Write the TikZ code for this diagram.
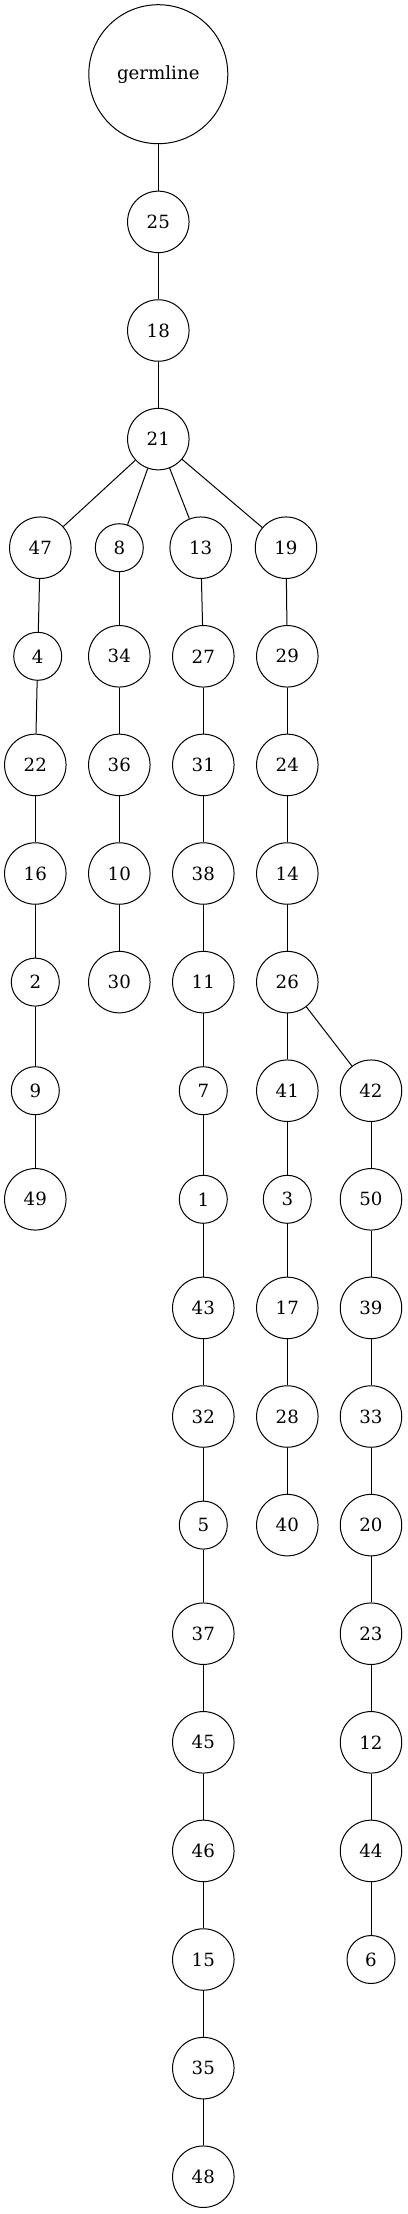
\documentclass[tikz,border=0pt]{standalone}
\usepackage{fontspec}
\setmainfont{DejaVu Serif}
\begin{document}
\begin{tikzpicture}[x=1pt,y=-1pt,
  nd/.style={circle,draw,line width=1pt,inner sep=0pt,minimum size=61.5pt,font=\fontsize{18.2}{22}\selectfont},
  sd/.style={nd,minimum size=48pt},
  root/.style={nd,minimum size=139pt},
  every path/.style={line width=1pt}]
\useasboundingbox (0,0) rectangle (407,2214);
% root column
\node[root] (g) at (158.3,74.2) {germline};
\node[nd] (n25) at (158.3,221.9) {25};
\node[nd] (n18) at (158.3,330.5) {18};
\node[nd] (n21) at (158.3,439.1) {21};
% column A
\node[nd] (n47) at (40.3,547.7) {47};
\node[sd] (n4) at (37.7,656.3) {4};
\node[nd] (n22) at (35.3,764.9) {22};
\node[nd] (n16) at (35.3,873.5) {16};
\node[sd] (n2) at (35.3,982.1) {2};
\node[sd] (n9) at (35.3,1090.7) {9};
\node[nd] (n49) at (35.3,1199.3) {49};
% column B
\node[sd] (n8) at (119.3,547.7) {8};
\node[nd] (n34) at (119.3,656.3) {34};
\node[nd] (n36) at (119.3,764.9) {36};
\node[nd] (n10) at (119.3,873.5) {10};
\node[nd] (n30) at (119.3,982.1) {30};
% column C
\node[nd] (n13) at (200.7,547.7) {13};
\node[nd] (n27) at (203.3,656.3) {27};
\node[nd] (n31) at (203.3,764.9) {31};
\node[nd] (n38) at (203.3,873.5) {38};
\node[nd] (n11) at (203.3,982.1) {11};
\node[sd] (n7) at (203.3,1090.7) {7};
\node[sd] (n1) at (203.3,1199.3) {1};
\node[nd] (n43) at (203.3,1307.9) {43};
\node[nd] (n32) at (203.3,1416.5) {32};
\node[sd] (n5) at (203.3,1525.1) {5};
\node[nd] (n37) at (203.3,1633.7) {37};
\node[nd] (n45) at (203.3,1742.3) {45};
\node[nd] (n46) at (203.3,1850.9) {46};
\node[nd] (n15) at (203.3,1959.5) {15};
\node[nd] (n35) at (203.3,2068.1) {35};
\node[nd] (n48) at (203.3,2176.7) {48};
% column D
\node[nd] (n19) at (286,547.7) {19};
\node[nd] (n29) at (287.3,656.3) {29};
\node[nd] (n24) at (287.3,764.9) {24};
\node[nd] (n14) at (287.3,873.5) {14};
\node[nd] (n26) at (287.3,982.1) {26};
\node[nd] (n41) at (287.3,1090.7) {41};
\node[sd] (n3) at (287.3,1199.3) {3};
\node[nd] (n17) at (287.3,1307.9) {17};
\node[nd] (n28) at (287.3,1416.5) {28};
\node[nd] (n40) at (287.3,1525.1) {40};
% column E
\node[nd] (n42) at (371,1090.7) {42};
\node[nd] (n50) at (371,1199.3) {50};
\node[nd] (n39) at (371,1307.9) {39};
\node[nd] (n33) at (371,1416.5) {33};
\node[nd] (n20) at (371,1525.1) {20};
\node[nd] (n23) at (371,1633.7) {23};
\node[nd] (n12) at (371,1742.3) {12};
\node[nd] (n44) at (371,1850.9) {44};
\node[sd] (n6) at (371,1959.5) {6};
% edges
\draw (g) -- (n25);
\draw (n25) -- (n18);
\draw (n18) -- (n21);
\draw (n21) -- (n47);
\draw (n21) -- (n8);
\draw (n21) -- (n13);
\draw (n21) -- (n19);
\draw (n47) -- (n4);
\draw (n4) -- (n22);
\draw (n22) -- (n16);
\draw (n16) -- (n2);
\draw (n2) -- (n9);
\draw (n9) -- (n49);
\draw (n8) -- (n34);
\draw (n34) -- (n36);
\draw (n36) -- (n10);
\draw (n10) -- (n30);
\draw (n13) -- (n27);
\draw (n27) -- (n31);
\draw (n31) -- (n38);
\draw (n38) -- (n11);
\draw (n11) -- (n7);
\draw (n7) -- (n1);
\draw (n1) -- (n43);
\draw (n43) -- (n32);
\draw (n32) -- (n5);
\draw (n5) -- (n37);
\draw (n37) -- (n45);
\draw (n45) -- (n46);
\draw (n46) -- (n15);
\draw (n15) -- (n35);
\draw (n35) -- (n48);
\draw (n19) -- (n29);
\draw (n29) -- (n24);
\draw (n24) -- (n14);
\draw (n14) -- (n26);
\draw (n26) -- (n41);
\draw (n26) -- (n42);
\draw (n41) -- (n3);
\draw (n3) -- (n17);
\draw (n17) -- (n28);
\draw (n28) -- (n40);
\draw (n42) -- (n50);
\draw (n50) -- (n39);
\draw (n39) -- (n33);
\draw (n33) -- (n20);
\draw (n20) -- (n23);
\draw (n23) -- (n12);
\draw (n12) -- (n44);
\draw (n44) -- (n6);
\end{tikzpicture}
\end{document}
